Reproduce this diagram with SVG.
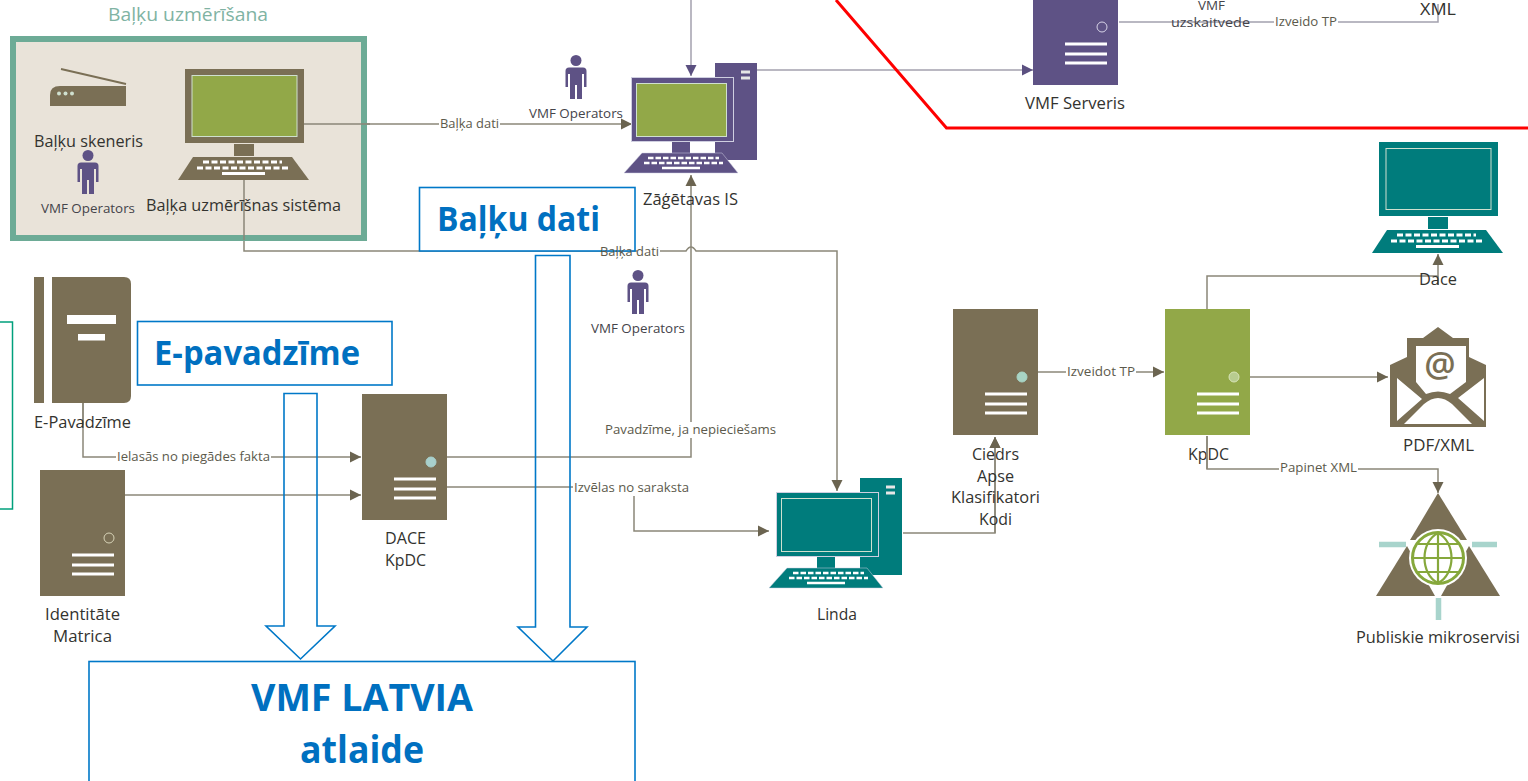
<svg xmlns="http://www.w3.org/2000/svg" xmlns:xlink="http://www.w3.org/1999/xlink" width="1528" height="781" viewBox="0 0 1528 781">
<style>
text{font-family:"Open Sans","Noto Sans","Liberation Sans",sans-serif;fill:#33332f}
.n{font-size:16.500px}
.s{font-size:13.500px;fill:#44444a}
.l{font-size:13.500px;fill:#5c5a4c}
.lb{fill:#fff}
.b{font-weight:700;font-size:34px;fill:#0070c0}
.big{font-size:38px}
.t{font-size:18px;fill:#80b3a3}
.c{fill:none;stroke:#8b8778;stroke-width:1.5}
.p{fill:none;stroke:#a3a1ae;stroke-width:1.5}
.o{fill:none;stroke:#0078c8;stroke-width:1.6}
.w{fill:#fff;stroke:#0078c8;stroke-width:1.6}
.ah{marker-end:url(#a)}
.ap{marker-end:url(#ap)}
</style>
<defs>
<marker id="a" markerUnits="userSpaceOnUse" markerWidth="12" markerHeight="12" refX="11" refY="6" orient="auto"><path d="M0 0.5L11 6L0 11.5z" fill="#6b6450"/></marker>
<marker id="ap" markerUnits="userSpaceOnUse" markerWidth="12" markerHeight="12" refX="11" refY="6" orient="auto"><path d="M0 0.5L11 6L0 11.5z" fill="#5b5080"/></marker>
<g id="person"><circle cx="0" cy="5.5" r="5.5"/><path d="M-10.500 16Q-10.500 12.500-7 12.500H7Q10.500 12.500 10.500 16V32H8V19H6V44H1V30H-1V44H-6V19H-8V32H-10.500z"/></g>
<g id="srv"><rect width="85" height="126" fill="currentColor"/><circle cx="69" cy="68" r="5" style="fill:var(--d);stroke:var(--e)"/><path d="M32 85H74M32 95H74M32 104H74" stroke="#fff" stroke-width="2.800" fill="none"/></g>
<g id="laptop"><rect width="119" height="74" fill="currentColor"/><rect x="7" y="6.500" width="105" height="61" style="fill:var(--s)" stroke="#cfe0cf" stroke-width="1"/><rect x="49" y="75" width="20" height="12" fill="currentColor"/><path d="M8 88H107L124 111H-7z" fill="currentColor"/><path d="M18 93H97M12 99H103" stroke="#fff" stroke-width="3" stroke-dasharray="6 2.500" fill="none"/><path d="M37 104.500H80" stroke="#fff" stroke-width="3" fill="none"/></g>
<g id="desk"><rect x="84" y="-14" width="42" height="97" fill="currentColor"/><path d="M110-5H119M110 1H119" stroke="#e6e6e6" stroke-width="3"/><rect x="0.500" y="0.500" width="102" height="64" fill="currentColor" stroke="#cfcfe0" stroke-width="1"/><rect x="5.500" y="6.500" width="90" height="53" style="fill:var(--s)" stroke="#cfe0cf" stroke-width="1"/><rect x="41" y="65" width="18" height="11" fill="currentColor"/><path d="M11 76H91L107 96H-7z" fill="currentColor" stroke="#cfcfe0" stroke-width="0.500"/><path d="M17 81H88M13 86H92" stroke="#fff" stroke-width="2.500" stroke-dasharray="5.500 2" fill="none"/><path d="M31 91H69" stroke="#fff" stroke-width="2.500" fill="none"/></g>
</defs>
<rect width="1528" height="781" fill="#fff"/>

<g id="connectors">
<path class="c ah" d="M304 124H632"/>
<path class="c ah" d="M244 180V251H686Q691 243 696 251H837V491"/>
<path class="c ah" d="M447 457H691V175"/>
<path class="p ap" d="M691 0V76"/>
<path class="p ap" d="M757 70H1033"/>
<path class="p" d="M1119 22H1438V4"/>
<path class="c ah" d="M83 403V457H361"/>
<path class="c ah" d="M125 495H361"/>
<path class="c ah" d="M447 487H634V531H769"/>
<path class="c ah" d="M903 533H995V437"/>
<path class="c ah" d="M1037 372H1164"/>
<path class="c" d="M1438 285V276"/>
<path class="c ah" d="M1207 309V276H1438V254"/>
<path class="c ah" d="M1250 377H1388"/>
<path class="c ah" d="M1207 436V469H1438V493"/>
</g>

<path id="red-line" d="M836 0L946.500 128H1528" fill="none" stroke="#fe0000" stroke-width="3"/>

<g id="balku-uzmerisana">
<text class="t" x="108" y="21" textLength="160" lengthAdjust="spacingAndGlyphs">Baļķu uzmērīšana</text>
<rect x="13" y="39" width="351" height="199" fill="#e9e3d9" stroke="#6dab96" stroke-width="6"/>
<path d="M304 124H370M244 180V240" class="c"/>
</g>
<g id="balku-skeneris">
<path d="M61 69L126 84" stroke="#7a6f55" stroke-width="1.800"/>
<path d="M50 106V95Q50 86 60 86H126V106z" fill="#7a6f55"/>
<g fill="#cfe0cf"><circle cx="59" cy="93.500" r="2"/><circle cx="65.500" cy="93.500" r="2"/><circle cx="72" cy="93.500" r="2"/></g>
<text class="n" x="34" y="147" textLength="109" lengthAdjust="spacingAndGlyphs">Baļķu skeneris</text>
</g>
<g id="operators-1"><use href="#person" x="88" y="150" fill="#5e5285"/><text class="s" x="41" y="213" textLength="94" lengthAdjust="spacingAndGlyphs">VMF Operators</text></g>
<g id="balka-sistema"><use href="#laptop" x="185" y="69" style="color:#7a6f55;--s:#92a848"/><text class="n" x="146" y="211" textLength="195" lengthAdjust="spacingAndGlyphs">Baļķa uzmērīšnas sistēma</text></g>

<g id="operators-2"><use href="#person" x="576" y="55" fill="#5e5285"/><text class="s" x="529" y="118" textLength="94" lengthAdjust="spacingAndGlyphs">VMF Operators</text></g>
<g id="zagetavas-is"><use href="#desk" x="631" y="77" style="color:#5e5285;--s:#92a848"/><text class="n" x="643" y="205" textLength="95" lengthAdjust="spacingAndGlyphs">Zāģētavas IS</text></g>
<g id="operators-3"><use href="#person" x="638" y="270" fill="#5e5285"/><text class="s" x="591" y="333" textLength="94" lengthAdjust="spacingAndGlyphs">VMF Operators</text></g>

<g id="vmf-serveris">
<use href="#srv" x="1033" y="-41" style="color:#5e5285;--d:#5e5285;--e:#d8d4e8"/>
<text class="n" x="1025" y="109" textLength="100" lengthAdjust="spacingAndGlyphs">VMF Serveris</text>
<text class="s" x="1198" y="10" textLength="27" lengthAdjust="spacingAndGlyphs">VMF</text>
<text class="s" x="1171" y="27" textLength="79" lengthAdjust="spacingAndGlyphs">uzskaitvede</text>
<text class="n" x="1420" y="15" textLength="36" lengthAdjust="spacingAndGlyphs">XML</text>
</g>

<g id="dace-pc"><use href="#laptop" x="1379" y="142" style="color:#007c7c;--s:#007c7c"/><text class="n" x="1419" y="285" textLength="38" lengthAdjust="spacingAndGlyphs">Dace</text></g>

<g id="pdf-xml">
<path d="M1438 327L1453 338H1469V357L1486 365V427H1390V365L1407 357V338H1423z" fill="#7a6f55"/>
<path d="M1416 346H1466V382L1450 394Q1438 389 1426 394L1416 382z" fill="#fff"/>
<path d="M1397 378L1422 399L1397 421zM1484 378L1458 398L1484 421zM1404 424L1424 404Q1438 392 1452 404L1472 424z" fill="#fff"/>
<text x="1440" y="377" text-anchor="middle" style="font-size:35px;font-weight:600;fill:#7a6f55">@</text>
<text class="n" x="1403" y="451" textLength="71" lengthAdjust="spacingAndGlyphs">PDF/XML</text>
</g>

<g id="publiskie-mikroservisi">
<path d="M1438 493L1467 540H1410z" fill="#7a6f55"/>
<path d="M1407 546L1435 596H1376z" fill="#7a6f55"/>
<path d="M1469 546L1500 596H1441z" fill="#7a6f55"/>
<path d="M1379 544.500H1406M1472 544.500H1497M1438.500 598V620" stroke="#a8d4cc" stroke-width="5.500" fill="none"/>
<circle cx="1438" cy="558" r="29" fill="#fff"/>
<circle cx="1438" cy="558" r="25.500" fill="#fff" stroke="#86a83c" stroke-width="3"/>
<path d="M1438 533V583M1413 558H1463M1418 544H1458M1418 572H1458M1438 533C1420 542 1420 574 1438 583M1438 533C1456 542 1456 574 1438 583" fill="none" stroke="#86a83c" stroke-width="2.200"/>
<text class="n" x="1356" y="643" textLength="164" lengthAdjust="spacingAndGlyphs">Publiskie mikroservisi</text>
</g>

<g id="e-pavadzime-doc">
<rect x="34" y="277" width="10" height="126" fill="#7a6f55"/>
<path d="M52 277H124Q131 277 131 284V396Q131 403 124 403H52z" fill="#7a6f55"/>
<rect x="67" y="315" width="49" height="9" fill="#fff"/><rect x="78" y="334" width="27" height="6.500" fill="#fff"/>
<path class="c" d="M83 403V425"/>
<text class="n" x="34" y="428" textLength="97" lengthAdjust="spacingAndGlyphs">E-Pavadzīme</text>
</g>
<g id="identitate">
<use href="#srv" x="40" y="470" style="color:#7a6f55;--d:#7a6f55;--e:#d8d4b8"/>
<text class="n" x="45" y="620" textLength="75" lengthAdjust="spacingAndGlyphs">Identitāte</text>
<text class="n" x="53" y="642" textLength="59" lengthAdjust="spacingAndGlyphs">Matrica</text>
</g>
<g id="dace-kpdc">
<use href="#srv" x="362" y="394" style="color:#7a6f55;--d:#a8d0cc;--e:#a8d0cc"/>
<text class="n" x="385" y="544" textLength="41" lengthAdjust="spacingAndGlyphs">DACE</text>
<text class="n" x="385" y="566" textLength="41" lengthAdjust="spacingAndGlyphs">KpDC</text>
</g>
<g id="linda"><use href="#desk" x="776" y="492" style="color:#007c7c;--s:#007c7c"/><text class="n" x="817" y="620" textLength="40" lengthAdjust="spacingAndGlyphs">Linda</text></g>
<g id="ciedrs">
<use href="#srv" x="953" y="309" style="color:#7a6f55;--d:#a8d4c4;--e:#a8d4c4"/>
<path class="c" d="M995 437V533"/>
<path d="M989.500 448L995 437L1000.500 448z" fill="#6b6450"/>
<text class="n" x="972" y="460" textLength="47" lengthAdjust="spacingAndGlyphs">Ciedrs</text>
<text class="n" x="977" y="482" textLength="37" lengthAdjust="spacingAndGlyphs">Apse</text>
<text class="n" x="951" y="503" textLength="89" lengthAdjust="spacingAndGlyphs">Klasifikatori</text>
<text class="n" x="979" y="525" textLength="33" lengthAdjust="spacingAndGlyphs">Kodi</text>
</g>
<g id="kpdc">
<use href="#srv" x="1165" y="309" style="color:#92a848;--d:#b8cc90;--e:#d8e4b8"/>
<text class="n" x="1188" y="460" textLength="41" lengthAdjust="spacingAndGlyphs">KpDC</text>
<path class="c" d="M1207 436V469"/>
</g>

<rect id="teal-box" x="-5" y="322" width="17.500" height="187" fill="#fff" stroke="#00a07c" stroke-width="1.500"/>

<g id="callout-e-pavadzime"><rect class="w" x="137.500" y="321.500" width="254.500" height="63.500"/><text class="b" x="154" y="365" textLength="206" lengthAdjust="spacingAndGlyphs">E-pavadzīme</text></g>
<g id="callout-balku-dati"><rect class="w" x="419.500" y="187.500" width="215.500" height="63.500"/><text class="b" x="437" y="231" textLength="163" lengthAdjust="spacingAndGlyphs">Baļķu dati</text></g>
<path id="block-arrow-1" class="o" d="M284 393.500H317V626H335L300.500 659L266 626H284z"/>
<path id="block-arrow-2" class="o" d="M535.500 255.500H570V627H587L553 661L518 627H535.500z"/>
<g id="callout-vmf-latvia"><rect class="w" x="89" y="661.500" width="546" height="125"/><text class="b big" x="251" y="711" textLength="222" lengthAdjust="spacingAndGlyphs">VMF LATVIA</text><text class="b big" x="300" y="763" textLength="124" lengthAdjust="spacingAndGlyphs">atlaide</text></g>

<g id="connector-labels">
<rect class="lb" x="439" y="116" width="61" height="16"/><text class="l" x="440" y="128" textLength="59" lengthAdjust="spacingAndGlyphs">Baļķa dati</text>
<rect class="lb" x="637" y="245" width="23" height="12"/><text class="l" x="600" y="256" textLength="59" lengthAdjust="spacingAndGlyphs">Baļķa dati</text>
<rect class="lb" x="604" y="422" width="173" height="16"/><text class="l" x="605" y="434" textLength="171" lengthAdjust="spacingAndGlyphs">Pavadzīme, ja nepieciešams</text>
<rect class="lb" x="116" y="449" width="155" height="16"/><text class="l" x="117" y="461" textLength="153" lengthAdjust="spacingAndGlyphs">Ielasās no piegādes fakta</text>
<rect class="lb" x="573" y="480" width="117" height="16"/><text class="l" x="574" y="492" textLength="115" lengthAdjust="spacingAndGlyphs">Izvēlas no saraksta</text>
<rect class="lb" x="1066" y="364" width="70" height="16"/><text class="l" x="1067" y="376" textLength="68" lengthAdjust="spacingAndGlyphs">Izveidot TP</text>
<rect class="lb" x="1279" y="461" width="79" height="16"/><text class="l" x="1280" y="472" textLength="77" lengthAdjust="spacingAndGlyphs">Papinet XML</text>
<rect class="lb" x="1274" y="14" width="64" height="16"/><text class="l" x="1275" y="26" textLength="62" lengthAdjust="spacingAndGlyphs">Izveido TP</text>
</g>
</svg>
